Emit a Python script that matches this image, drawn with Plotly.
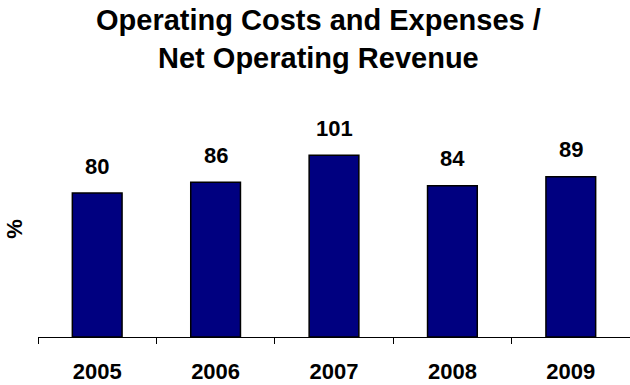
import plotly.graph_objects as go

# Operating costs and expenses as a share of net operating revenue (%)
years = ["2005", "2006", "2007", "2008", "2009"]
ratio_pct = [80, 86, 101, 84, 89]
title_lines = ["Operating Costs and Expenses /", "Net Operating Revenue"]
y_label = "%"

BAR_COLOR = "#000080"
FONT = "Liberation Sans, Arial, sans-serif"

fig = go.Figure(
    go.Bar(
        x=years,
        y=ratio_pct,
        width=0.42,
        marker=dict(color=BAR_COLOR, line=dict(color="black", width=1.5)),
        hoverinfo="x+y",
    )
)

# value labels above each bar (x given as category index)
for i, v in enumerate(ratio_pct):
    fig.add_annotation(
        x=i, y=v, xref="x", yref="y", text=f"<b>{v}</b>", showarrow=False,
        yanchor="middle", yshift=27,
        font=dict(family=FONT, size=22, color="black"),
    )

# two-line chart title
fig.add_annotation(
    xref="paper", yref="paper", x=0.474, y=1.378,
    xanchor="center", yanchor="middle", showarrow=False,
    text="<b>" + "<br>".join(title_lines) + "</b>",
    font=dict(family=FONT, size=29, color="black"),
)

# rotated axis unit label
fig.add_annotation(
    xref="paper", yref="paper", x=-0.041, y=0.5,
    xanchor="center", yanchor="middle", showarrow=False,
    textangle=-90, text=f"<b>{y_label}</b>",
    font=dict(family=FONT, size=22, color="black"),
)

fig.update_layout(
    width=630, height=385,
    margin=dict(l=38, r=0, t=121, b=48),
    paper_bgcolor="white", plot_bgcolor="white",
    showlegend=False,
    xaxis=dict(
        type="category",
        range=[-0.5, 4.5],
        showline=True, linecolor="black", linewidth=1.2,
        ticks="outside", tickson="boundaries", ticklen=6,
        tickcolor="black", tickwidth=1.2,
        ticklabelstandoff=14,
        showgrid=False, zeroline=False,
        tickfont=dict(family=FONT, size=22, color="black"),
        tickprefix="<b>", ticksuffix="</b>",
    ),
    yaxis=dict(
        range=[0, 120],
        showline=False, showgrid=False, zeroline=False,
        showticklabels=False, ticks="",
    ),
)

fig.write_html("out.html")
